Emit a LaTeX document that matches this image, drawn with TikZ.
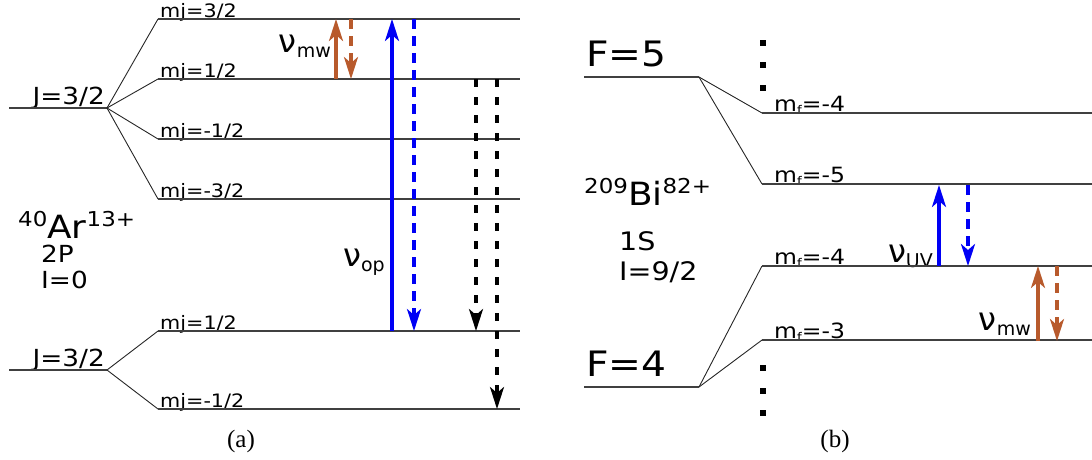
\documentclass[tikz,border=0pt]{standalone}
\usepackage{graphicx}
\usepackage{fontspec}
\setmainfont{DejaVu Sans}
\newfontfamily\capfont{Liberation Serif}
\usetikzlibrary{arrows.meta}

\definecolor{mwbrown}{RGB}{184,90,44}
\definecolor{opblue}{RGB}{0,0,245}

\newcommand{\fs}[1]{\fontsize{#1}{#1}\selectfont}
\newcommand{\widetxt}[1]{\scalebox{1.12}[1]{#1}}
\newcommand{\freq}[1]{{\fs{32}ν}\raisebox{-5pt}{\fs{19}#1}}
\newcommand{\mf}{m\raisebox{-3pt}{\fs{12}f}}
\newcommand{\ion}[3]{\widetxt{\raisebox{12pt}{\fs{20.5}#1}{\fs{32}#2}\raisebox{12pt}{\fs{20.5}#3}}}

\begin{document}
\begin{tikzpicture}[x=1pt, y=-1pt,
    level/.style={draw=black!75, line width=1.3pt},
    branch/.style={draw=black!85, line width=0.9pt},
    lbl/.style={inner sep=0pt, anchor=base west, font=\fs{18.5}},
    big/.style={inner sep=0pt, font=\fs{23.5}},
    trans/.style={line width=3.1pt, -{Stealth[length=22pt, width=14pt, inset=6pt]}},
    decay/.style={trans, dash pattern=on 10pt off 7pt},
    dot/.style={fill=black, minimum size=5.5pt, inner sep=0pt, draw=none}]
  \useasboundingbox (0,0) rectangle (1092,459);

  % Nodes -- (a) Ar
  \coordinate (j1) at (9,108);
  \coordinate (v1) at (107,108);
  \coordinate (j2) at (9,370);
  \coordinate (v2) at (107,370);
  \foreach \n/\y in {p3/19, p1/79, m1/139, m3/199, q1/331, q0/409} {
    \coordinate (\n L) at (158,\y);
    \coordinate (\n R) at (520,\y);
  }
  \node[lbl] (lp3) at (160,17) {\widetxt{mj=3/2}};
  \node[lbl] (lp1) at (160,77) {\widetxt{mj=1/2}};
  \node[lbl] (lm1) at (160,137) {\widetxt{mj=-1/2}};
  \node[lbl] (lm3) at (160,197) {\widetxt{mj=-3/2}};
  \node[lbl] (lq1) at (160,329) {\widetxt{mj=1/2}};
  \node[lbl] (lq0) at (160,407) {\widetxt{mj=-1/2}};
  \node[big, anchor=base east] (J1) at (105,104) {\widetxt{J=3/2}};
  \node[big, anchor=base east] (J2) at (105,366) {\widetxt{J=3/2}};
  \node[inner sep=0pt, anchor=base west] (ar) at (18,238) {\ion{40}{Ar}{13+}};
  \node[big, anchor=base west] (ar2) at (41,262) {\widetxt{2P}};
  \node[big, anchor=base west] (ar3) at (41,288) {\widetxt{I=0}};
  \node[inner sep=0pt, anchor=base east] (nmw1) at (331,52) {\freq{mw}};
  \node[inner sep=0pt, anchor=base east] (nop) at (385,266) {\freq{op}};
  \node[inner sep=0pt, font=\capfont\fs{25}] (capa) at (241,441) {(a)};

  % Nodes -- (b) Bi
  \coordinate (f5) at (584,77);
  \coordinate (w5) at (699,77);
  \coordinate (f4) at (584,387);
  \coordinate (w4) at (699,387);
  \foreach \n/\y in {a4/113, a5/184, b4/266, b3/340} {
    \coordinate (\n L) at (762,\y);
    \coordinate (\n R) at (1092,\y);
  }
  \node[lbl, font=\fs{21}] (la4) at (774,111) {\widetxt{\mf=-4}};
  \node[lbl, font=\fs{21}] (la5) at (774,182) {\widetxt{\mf=-5}};
  \node[lbl, font=\fs{21}] (lb4) at (774,264) {\widetxt{\mf=-4}};
  \node[lbl, font=\fs{21}] (lb3) at (774,338) {\widetxt{\mf=-3}};
  \node[inner sep=0pt, anchor=base west, font=\fs{35}] (F5) at (586,66) {\widetxt{F=5}};
  \node[inner sep=0pt, anchor=base west, font=\fs{35}] (F4) at (586,376) {\widetxt{F=4}};
  \node[inner sep=0pt, anchor=base west] (bi) at (584,205) {\ion{209}{Bi}{82+}};
  \node[big, anchor=base west, font=\fs{25.5}] (bi2) at (619,250) {\widetxt{1S}};
  \node[big, anchor=base west, font=\fs{25.5}] (bi3) at (619,280) {\widetxt{I=9/2}};
  \node[inner sep=0pt, anchor=base east] (nuv) at (933,262) {\freq{UV}};
  \node[inner sep=0pt, anchor=base east] (nmw2) at (1031,330) {\freq{mw}};
  \node[inner sep=0pt, font=\capfont\fs{25}] (capb) at (835,441) {(b)};
  \foreach \i/\y in {1/43, 2/65, 3/88, 4/368, 5/391, 6/413}
    \node[dot] (d\i) at (763,\y) {};

  % Levels
  \draw[level] (j1) -- (v1);
  \draw[level] (j2) -- (v2);
  \foreach \n in {p3, p1, m1, m3}
    \draw[branch] (v1) -- (\n L);
  \foreach \n in {q1, q0}
    \draw[branch] (v2) -- (\n L);
  \foreach \n in {p3, p1, m1, m3, q1, q0}
    \draw[level] (\n L) -- (\n R);
  \draw[level] (f5) -- (w5);
  \draw[level] (f4) -- (w4);
  \foreach \n in {a4, a5}
    \draw[branch] (w5) -- (\n L);
  \foreach \n in {b4, b3}
    \draw[branch] (w4) -- (\n L);
  \foreach \n in {a4, a5, b4, b3}
    \draw[level] (\n L) -- (\n R);

  % Edges -- (a)
  \coordinate (e1) at (336,79);  \coordinate (e2) at (336,19);
  \coordinate (e3) at (351,19);  \coordinate (e4) at (351,79);
  \coordinate (e5) at (392,331); \coordinate (e6) at (392,19);
  \coordinate (e7) at (414,19);  \coordinate (e8) at (414,331);
  \coordinate (e9) at (476,79);  \coordinate (e10) at (476,331);
  \coordinate (e11) at (497,79); \coordinate (e12) at (497,409);
  \draw[trans, mwbrown] (e1) -- (e2);
  \draw[decay, mwbrown] (e3) -- (e4);
  \draw[trans, opblue] (e5) -- (e6);
  \draw[decay, opblue] (e7) -- (e8);
  \draw[decay, black, dash pattern=on 8pt off 10pt] (e9) -- (e10);
  \draw[decay, black, dash pattern=on 8pt off 10pt] (e11) -- (e12);

  % Edges -- (b)
  \coordinate (g1) at (939,266);  \coordinate (g2) at (939,185);
  \coordinate (g3) at (968,185);  \coordinate (g4) at (968,266);
  \coordinate (g5) at (1038,341); \coordinate (g6) at (1038,266);
  \coordinate (g7) at (1057,266); \coordinate (g8) at (1057,341);
  \draw[trans, opblue] (g1) -- (g2);
  \draw[decay, opblue] (g3) -- (g4);
  \draw[trans, mwbrown] (g5) -- (g6);
  \draw[decay, mwbrown] (g7) -- (g8);
\end{tikzpicture}
\end{document}
